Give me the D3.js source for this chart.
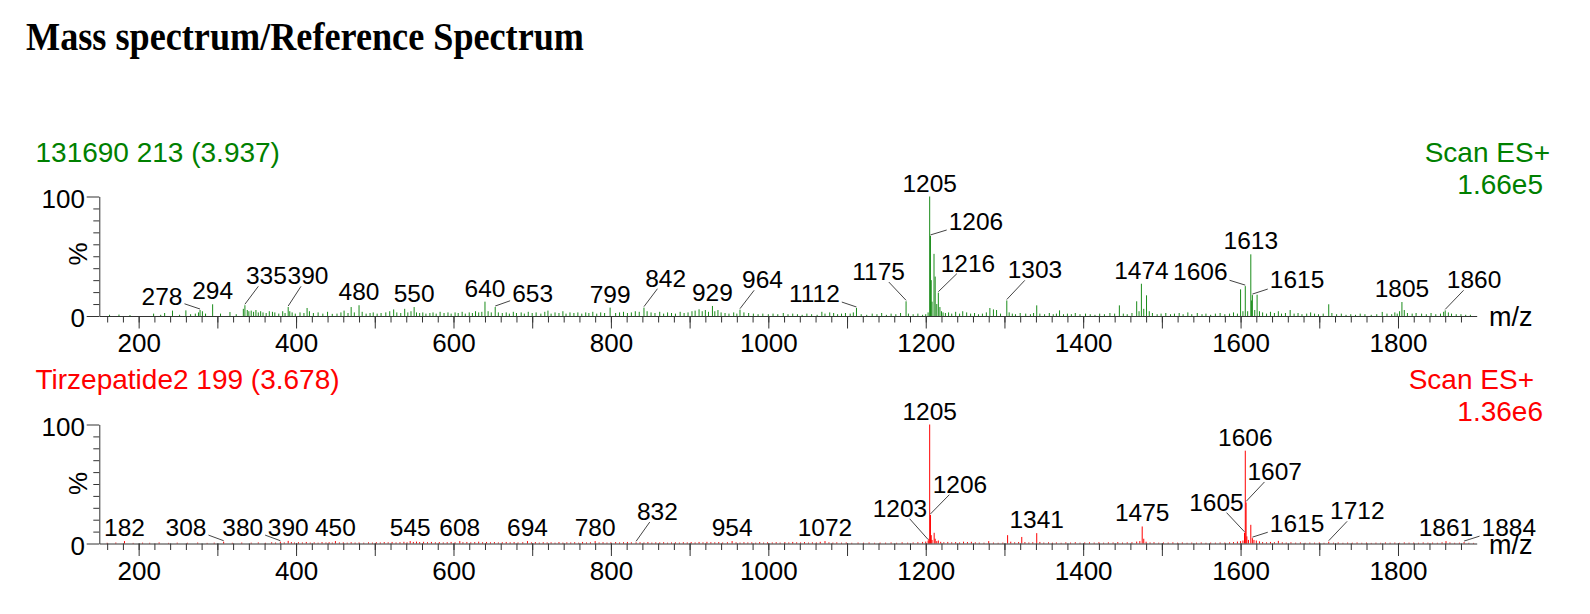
<!DOCTYPE html>
<html><head><meta charset="utf-8">
<script src="https://cdn.jsdelivr.net/npm/d3@7"></script>
<style>body{margin:0;background:#fff}svg{display:block}</style>
</head><body>
<svg id="chart" width="1590" height="614"></svg>
<script>
// ---------- DATA ----------
const titleText = "Mass spectrum/Reference Spectrum";
const xDomain = [150, 1900];
const xLabelTicks = [200, 400, 600, 800, 1000, 1200, 1400, 1600, 1800];
const yLabelTicks = [0, 100];

const topHeader = "131690 213 (3.937)";
const topScan = "Scan ES+";
const topMax = "1.66e5";
const topMz = [163,175,189,219,228,233,243,252,260,266,272,276,278,281,285,294,304,316,
324,333,335,338,340,343,346,349,352,355,358,362,366,370,373,378,383,386,390,392,395,399,
405,410,414,417,422,428,434,440,446,452,457,461,466,470,474,480,484,489,494,498,
503,508,514,519,524,528,533,538,542,546,550,553,557,561,565,570,574,578,583,588,593,597,
602,606,611,615,620,624,628,632,636,640,644,648,653,657,662,667,671,676,680,686,690,695,
700,705,711,716,720,724,729,734,739,743,748,753,758,763,768,772,777,782,787,792,799,
806,811,816,821,826,831,836,842,846,851,856,862,867,872,877,882,888,893,898,
903,907,912,916,920,924,929,932,936,940,945,950,956,960,964,969,975,981,987,993,
1000,1006,1012,1019,1025,1031,1037,1043,1049,1055,1062,1068,1072,1078,1083,1088,1093,1098,
1104,1108,1112,1118,1125,1132,1138,1144,1150,1156,1162,1168,1175,1178,1184,1190,1196,1200,1203,
1205,1206,1207,1208,1210.5,1212,1214,1216,1218,1220,1222,1225,1229,1233,1238,1243,1247,1252,1257,1262,1267,1272,1277,1281.5,1286,1290,1295,
1303,1306,1310,1314,1320,1327,1333,1337,1341,1345,1351,1357,1362,1366,1370,1375,1380,1385,1390,1396,
1403,1409,1415,1421,1427,1434,1440,1446,1451,1456,1462,1468,1471,1474,1477,1480.5,1484,1488,1494,1499,
1505,1511,1516,1522,1527,1533,1538,1545,1551,1556,1562,1568,1574,1580,1586,1591,1596,
1600,1603,1606,1609,1613,1614,1615,1618,1621,1624,1628,1633,1638,1643,1648,1652,1657,1663,1668,1673,1678,1684,1689,1694,1699,
1705,1712,1716,1722,1728,1734,1740,1746,1752,1758,1766,1773,1780,1786,1792,1796,1799,
1802,1805,1808,1812,1818,1823,1830,1836,1842,1848,1854,1858,1860,1864,1868,1874,1880,1886,1892];
const topPct = [1,1.2,0.8,2,1,2.5,4.5,1,4.7,1.5,2,3,5,4,2,9.8,2,3.3,
1.5,6,9,5,4,4.5,3.5,5,3,4,3,2.5,4,3.5,3,2,4,2.5,7.5,4,3,2,
3,2.5,6.7,4,2.5,3,2,3.5,1.8,2,3,4.5,2.5,7.5,3,9,3.5,2,2.5,3,
2,2.5,3,4,5.5,3,2.5,6,3,4,7.5,3,2.5,3,2,2.5,3,2,3.5,2.5,3,2,
3,2.5,3.5,2,3,2.5,4,3,3.5,12,4,3,7.5,3,2.5,3,2,3.5,2.5,3,2,3.5,
2.5,3,2,3.5,4.5,2,3,2.5,4,2,3,2.5,3,2,3,2.5,3.5,2,3,2.5,7,
2.5,3,3.5,2.5,3,4,3.5,7,4,3,2.5,3.5,2,3,2.5,2,3.5,2.5,3,
4,4.5,5.6,4,5,3.5,8.4,4,5,3,2.5,2,3,2,5.3,3,2.5,2,1.5,2,
1.5,2,1.5,2.5,1.5,2,1.5,1,2,1.5,1,3.5,2,3,2.5,1.5,2,2.5,
2,3,6.7,1.5,1,2,1.5,2.5,1,2,1.5,2.5,12.3,2,1.5,2,1,1.5,3,
100,67,30,12,52,33,10,19.5,7.5,4,3,2.5,3,2,3.5,2,4,3,2,2.5,1.5,2,3,6.7,5.5,5,2,
13,3,2,1.5,2.5,2,1.5,2.5,8.9,2,1.5,2.5,1.5,2,4.7,1.5,2,1.5,2.5,1.5,
2,1.5,1,2,1.5,2.5,2,8.9,2,1.5,2.5,12.3,4,27,6,17.3,4,2.5,1.5,2,
2.5,1.5,2,2.5,1.5,3,1.5,2.5,1.5,2,1,2,2.5,1.5,2,3,2,
22.3,4,25,4,51.6,13,17.5,5,17.8,4,3,2,3.5,2.5,4,2,2.5,5,2,2.5,1.5,2,3,2,1.5,
2,9.8,2.5,1.5,2,1,1.5,1,2,1.5,1,1.5,3.4,2,1.5,3,2,
4,11.7,5,2.5,2,2.5,2,1.5,2.5,1.5,2,3.5,4.7,3,2,1.5,1.5,1,1];
const topLabels   = [278,294,335,390,480,550,640,653,799,842,929,964,1112,1175,1205,1206,1216,1303,1474,1606,1613,1615,1805,1860];
const topLabelMz  = [229.7,null,362.3,415.2,null,null,null,700.5,null,869.5,null,992.6,1058.5,1140.1,null,1263.8,1253.7,1338.8,null,1548.8,null,1671.7,null,1896.6];
const topLabelPct = [9.2,null,26.5,26.5,null,null,null,12,null,24.5,null,23.2,12,30.1,null,72,37.1,31.5,null,30.1,null,23.2,null,23.2];

const botHeader = "Tirzepatide2 199 (3.678)";
const botScan = "Scan ES+";
const botMax = "1.36e6";
const botMz = [160,171,182,193,205,214,226,238,249,262,275,287,296,308,319,331,343,352,361,369,374,380,385,390,394,398,
403,408,413,418,423,428,433,438,442,446,450,455,460,465,470,475,480,486,492,497,
502,507,512,517,522,527,532,537,541,545,549,553,557,562,567,572,577,582,587,592,597,
602,608,612,617,622,627,632,637,642,647,652,657,662,667,672,677,682,688,694,699,
704,709,714,719,724,729,734,739,744,749,754,759,764,769,774,780,785,790,795,
800,806,811,816,821,826,832,837,842,847,852,857,862,867,872,877,882,887,892,897,
902,907,912,917,922,927,932,937,942,948,954,959,964,969,974,979,984,989,994,999,
1005,1010,1015,1021,1026,1031,1036,1041,1046,1051,1056,1061,1066,1072,1077,1082,1087,1093,1099,
1106,1114,1121,1128,1135,1142,1149,1156,1163,1170,1177,1184,1190,1196,1200,1203,1204,
1205,1206,1207,1208,1210.7,1212,1214,1216,1219,1223,1228,1233,1238,1243,1248,1253,1258,1263,1268,1274,1280,1286,1292,1298,
1304,1308,1313,1318,1322,1326,1331,1336,1341,1345,1350,1356,1361,1366,1372,1378,1384,1390,1396,
1402,1408,1414,1420,1426,1432,1438,1444,1450,1456,1462,1468,1472,1475,1477,1480,1485,1490,1496,
1502,1508,1514,1520,1526,1532,1538,1544,1550,1556,1562,1568,1574,1580,1586,1591,1596,
1600,1603,1605,1606,1607,1608,1610,1613,1615,1617,1620,1624,1628,1633,1638,1643,1648,1653,1658,1664,1670,1676,1682,1688,1694,
1700,1706,1712,1718,1724,1730,1736,1742,1748,1754,1760,1766,1772,1778,1784,1790,1796,
1802,1808,1814,1820,1826,1832,1838,1844,1850,1856,1861,1866,1872,1878,1884,1890,1896];
const botPct = [0.6,0.8,2,0.5,0.7,0.6,0.9,0.5,0.7,0.6,0.8,0.5,0.7,1.5,0.6,0.8,0.7,0.9,0.6,1.0,0.8,1.5,0.9,2.2,1.2,0.8,
1.1,0.9,1.3,0.8,1.0,0.7,1.2,0.9,1.1,0.8,2,0.9,1.0,0.7,1.1,0.8,0.9,0.7,1.0,0.8,
1.1,0.9,1.2,1.0,1.3,0.9,1.1,1.4,1.0,2,1.3,1.6,1.2,1.4,1.1,1.3,1.0,1.2,0.9,1.1,1.3,
1.0,2,1.1,1.3,1.0,1.2,1.5,1.1,1.3,1.0,1.2,0.9,1.1,1.3,1.0,1.2,0.9,1.1,2,1.0,
1.2,0.8,1.1,0.9,1.0,0.7,1.2,0.8,1.0,0.9,1.1,0.7,1.3,0.9,1.0,2,0.9,1.1,0.8,
1.0,1.2,0.9,1.1,1.3,1.0,1.0,1.1,0.9,1.2,0.8,1.0,0.9,1.1,0.7,0.9,1.0,0.8,1.1,0.9,
1.2,0.9,1.3,1.0,1.4,1.1,1.0,1.2,0.9,1.1,2,1.0,0.8,1.1,0.9,1.0,0.7,1.2,0.8,1.0,
0.9,1.1,0.8,1.2,0.9,1.3,1.0,0.9,1.2,0.8,1.0,0.9,1.4,2,1.0,0.8,1.0,0.7,0.9,
0.6,0.8,0.7,0.9,0.6,0.8,0.7,0.9,0.6,1.0,0.7,0.9,1.1,1.3,1.6,2.5,4,
100,24,7,3,9,4,2,2.5,1.4,1.1,1.3,1.0,1.2,0.9,1.5,1.2,1.4,1.0,0.8,0.7,2,0.8,0.6,0.8,
7,1.5,1.0,1.2,5.5,1.2,0.9,1.1,8.7,1.3,0.8,1.0,0.7,0.9,0.6,1.0,0.8,1.1,0.7,
0.9,1.0,0.8,1.1,0.7,1.0,0.9,1.2,0.8,1.0,1.1,1.6,2.0,14.3,4,1.5,0.9,1.1,0.7,
0.9,0.8,1.0,0.7,0.9,0.6,0.8,0.7,0.9,0.6,0.8,0.7,0.9,0.8,1.0,1.2,1.6,
2.0,2.5,9,78,34.5,6,3,15.7,4.5,3,2.5,1.8,1.2,1.0,1.3,1.1,2.2,1.0,0.8,1.0,0.7,0.9,0.6,0.8,0.7,
0.9,0.6,1.5,0.7,0.9,0.6,0.8,0.7,0.9,0.6,0.8,0.5,0.7,0.6,0.9,0.7,0.8,
0.6,0.9,0.7,0.8,0.6,0.9,0.7,0.8,0.6,1.0,2,0.9,0.6,0.7,1.2,0.6,0.5];
const botLabels   = [182,308,380,390,450,545,608,694,780,832,954,1072,1203,1205,1206,1341,1475,1605,1606,1607,1615,1712,1861,1884];
const botLabelMz  = [null,260.2,332.2,null,null,null,null,null,null,859.1,null,null,1167.3,null,1243.5,null,null,1569.3,null,1643.3,1671.7,1748.4,null,1940.8];
const botLabelPct = [null,6.6,6.6,null,null,null,null,null,null,19.7,null,null,22.5,null,42.7,null,null,27.6,null,53.4,9.9,20.3,null,6.6];

// ---------- DRAWING ----------
const FONT = "'Liberation Sans', Arial, Helvetica, sans-serif";
const svg = d3.select("#chart");
svg.append("rect").attr("width",1590).attr("height",614).attr("fill","#fff");

const x = d3.scaleLinear().domain(xDomain).range([99.3, 1476.7]);

svg.append("text").attr("x",26).attr("y",49.5)
  .attr("font-family","'Liberation Serif','Times New Roman',serif")
  .attr("font-weight","bold").attr("font-size",39)
  .attr("textLength",558).attr("lengthAdjust","spacingAndGlyphs")
  .text(titleText);

function drawPanel(o){
  const g = svg.append("g");
  const y = d3.scaleLinear().domain([0,100]).range([o.y0, o.y100]);

  // headers
  g.append("text").attr("x",35.5).attr("y",o.headY).attr("font-family",FONT).attr("font-size",28)
    .attr("fill",o.color).text(o.header);
  g.append("text").attr("x",o.scanX).attr("y",o.headY).attr("text-anchor","end").attr("font-family",FONT)
    .attr("font-size",28).attr("fill",o.color).text(o.scan);
  g.append("text").attr("x",1543).attr("y",o.headY+31.7).attr("text-anchor","end").attr("font-family",FONT)
    .attr("font-size",28).attr("fill",o.color).text(o.max);

  // bars
  const peaks = d3.zip(o.mz, o.pct);
  g.append("g").selectAll("line").data(peaks).join("line")
    .attr("x1",d=>x(d[0])).attr("x2",d=>x(d[0]))
    .attr("y1",y(0)).attr("y2",d=>y(d[1]))
    .attr("stroke",o.barColor).attr("stroke-width",1);

  // x axis
  const xa1 = g.append("g").attr("transform",`translate(0,${y(0)})`)
    .call(d3.axisBottom(x).tickValues(d3.range(160,1881,20)).tickSize(6.5).tickSizeOuter(0).tickFormat(""));
  const xa2 = g.append("g").attr("transform",`translate(0,${y(0)})`)
    .call(d3.axisBottom(x).tickValues(d3.range(200,1801,100)).tickSize(12.5).tickPadding(5.5)
      .tickFormat(d=> xLabelTicks.includes(d) ? d : ""));
  xa2.select(".domain").remove();
  // y axis
  const ya1 = g.append("g").attr("transform",`translate(${x(150)},0)`)
    .call(d3.axisLeft(y).tickValues(d3.range(10,100,10)).tickSize(6).tickSizeOuter(0).tickFormat(""));
  const ya2 = g.append("g").attr("transform",`translate(${x(150)},0)`)
    .call(d3.axisLeft(y).tickValues(yLabelTicks).tickSize(12.6).tickPadding(1.8));
  ya2.select(".domain").remove();
  [xa1,xa2,ya1,ya2].forEach(a=>{
    a.selectAll("path,line").attr("stroke","#333").attr("stroke-width",1);
    a.selectAll("text").attr("font-family",FONT).attr("font-size",26).attr("fill","#000");
  });
  ya2.selectAll("text").attr("dy","0.41em");

  // axis titles
  g.append("text").attr("transform",`translate(78,${o.pctY}) rotate(-90)`).attr("text-anchor","middle")
    .attr("dy","0.36em").attr("font-family",FONT).attr("font-size",26).text("%");
  g.append("text").attr("x",1489).attr("y",y(0)+10).attr("font-family",FONT).attr("font-size",27).text("m/z");

  // peak labels
  const fs = 24.5;
  o.labels.forEach((m,i)=>{
    const idx = o.mz.indexOf(m);
    const px = x(m), py = y(o.pct[idx]);
    const auto = o.labelMz[i] === null;
    const lx = auto ? px : x(o.labelMz[i]);
    const ly = auto ? py - 5 : y(o.labelPct[i]);
    const t = g.append("text").attr("x",lx).attr("y",ly).attr("text-anchor","middle")
      .attr("font-family",FONT).attr("font-size",fs).attr("fill","#000").text(String(Math.round(m)));
    if(!auto){
      const w = t.node().getComputedTextLength();
      const cx = lx, cy = ly - 0.36*fs;
      const hw = w/2 + 2, hh = 0.36*fs + 2;
      const dx = px - cx, dy = (py-1) - cy;
      const tt = Math.min(Math.abs(dx)>0 ? hw/Math.abs(dx) : Infinity, Math.abs(dy)>0 ? hh/Math.abs(dy) : Infinity);
      g.append("line").attr("x1",cx+tt*dx).attr("y1",cy+tt*dy).attr("x2",px).attr("y2",py-1)
        .attr("stroke","#444").attr("stroke-width",1);
    }
  });
}

drawPanel({y0:316, y100:196.5, color:"#008000", barColor:"#1a8c1a", header:topHeader, scan:topScan, max:topMax,
  headY:162.3, scanX:1550, pctY:254, mz:topMz, pct:topPct, labels:topLabels, labelMz:topLabelMz, labelPct:topLabelPct});
drawPanel({y0:543.5, y100:424.5, color:"#ff0000", barColor:"#ff0000", header:botHeader, scan:botScan, max:botMax,
  headY:389, scanX:1534, pctY:483.5, mz:botMz, pct:botPct, labels:botLabels, labelMz:botLabelMz, labelPct:botLabelPct});
</script>
</body></html>
